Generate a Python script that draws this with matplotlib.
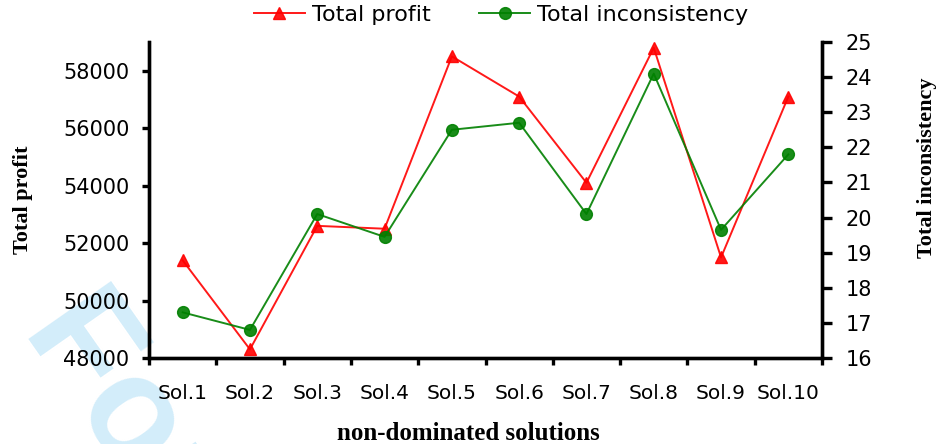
import matplotlib
matplotlib.use("Agg")
import matplotlib.pyplot as plt
import numpy as np

categories = ["Sol.1", "Sol.2", "Sol.3", "Sol.4", "Sol.5", "Sol.6", "Sol.7", "Sol.8", "Sol.9", "Sol.10"]
total_profit = [51400, 48300, 52600, 52500, 58500, 57100, 54100, 58800, 51500, 57100]
total_inconsistency = [17.3, 16.8, 20.1, 19.45, 22.5, 22.7, 20.1, 24.1, 19.65, 21.8]
profit_ticks = [48000, 50000, 52000, 54000, 56000, 58000]
incons_ticks = [16, 17, 18, 19, 20, 21, 22, 23, 24, 25]

W, H = 948, 444
fig = plt.figure(figsize=(W / 100, H / 100), dpi=100)

# watermark (drawn behind everything)
fig.text(22 / W, 1 - 330 / H, "For Peer Review", rotation=-55, rotation_mode="anchor",
         ha="left", va="baseline", fontsize=106, fontweight="bold",
         family="Liberation Sans", color="#d3edfa", zorder=-5)

ax = fig.add_axes([149 / W, 1 - 358 / H, (822 - 149) / W, (358 - 42) / H])
ax.set_facecolor("none")
ax2 = ax.twinx()
ax2.set_facecolor("none")

x = np.arange(len(categories))
l1, = ax.plot(x, total_profit, color="#ff0000", lw=1.4, marker="^", markersize=9,
              label="Total profit", alpha=0.9)
l2, = ax2.plot(x, total_inconsistency, color="#008000", lw=1.4, marker="o", markersize=8.5,
               label="Total inconsistency", alpha=0.9)

ax.set_xlim(-0.5, len(categories) - 0.5)
ax.set_ylim(48000, 59000)
ax2.set_ylim(16, 25)
ax.set_yticks(profit_ticks)
ax.set_yticklabels([str(v) for v in profit_ticks])
ax2.set_yticks(incons_ticks)
ax2.set_yticklabels([str(v) for v in incons_ticks])

ax.set_xticks(np.arange(-0.5, len(categories), 1.0))
ax.set_xticklabels([])
ax.set_xticks(x, minor=True)
ax.set_xticklabels(categories, minor=True)

lw = 2.4
for a in (ax, ax2):
    a.spines["top"].set_visible(False)
    for s in ("left", "right", "bottom"):
        a.spines[s].set_linewidth(lw)
        a.spines[s].set_color("black")

ax.tick_params(axis="x", which="major", direction="out", length=5, width=lw)
ax.tick_params(axis="x", which="minor", length=0, pad=19, labelsize=14.5)
ax.tick_params(axis="y", direction="out", length=5, width=lw, pad=9, labelsize=15)
ax2.tick_params(axis="y", direction="out", length=7, width=lw, pad=10, labelsize=15)

for lab in ax.get_xticklabels(minor=True) + ax.get_yticklabels() + ax2.get_yticklabels():
    lab.set_family("DejaVu Sans")

fig.text(23 / W, 1 - 200 / H, "Total profit", rotation=90, ha="center", va="center",
         family="Liberation Serif", fontweight="bold", fontsize=16)
fig.text(927 / W, 1 - 168 / H, "Total inconsistency", rotation=90, ha="center", va="center",
         family="Liberation Serif", fontweight="bold", fontsize=16)
fig.text(468 / W, 1 - 440 / H, "non-dominated solutions", ha="center", va="baseline",
         family="Liberation Serif", fontweight="bold", fontsize=18)

fig.legend(handles=[l1, l2], loc="center", bbox_to_anchor=(501 / W, 1 - 15 / H), ncol=2,
           frameon=False, handlelength=2.3, handletextpad=0.3, columnspacing=2.2,
           prop={"family": "DejaVu Sans", "size": 16})

fig.savefig("out.png", dpi=100)
